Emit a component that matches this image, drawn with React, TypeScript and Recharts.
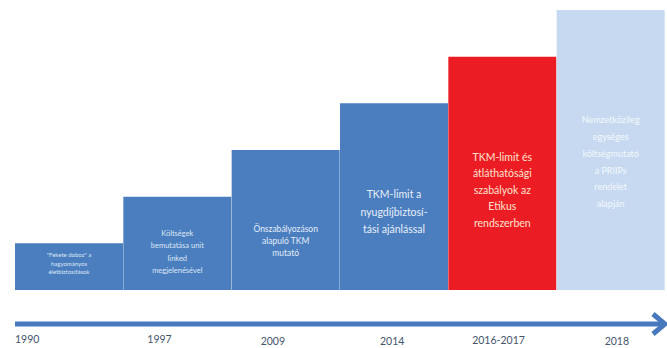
import { BarChart, Bar, XAxis, YAxis, Cell, LabelList } from 'recharts';

const years = ['1990', '1997', '2009', '2014', '2016-2017', '2018'];
const steps = [1, 2, 3, 4, 5, 6];
const milestones = [
  ['"Fekete doboz" a', 'hagyományos', 'életbiztosítások'],
  ['Költségek', 'bemutatása unit', 'linked', 'megjelenésével'],
  ['Önszabályozáson', 'alapuló TKM', 'mutató'],
  ['TKM-limit a', 'nyugdíjbiztosí-', 'tási ajánlással'],
  ['TKM-limit és', 'átláthatósági', 'szabályok az', 'Etikus', 'rendszerben'],
  ['Nemzetközileg', 'egységes', 'költségmutató', 'a PRIIPs', 'rendelet', 'alapján'],
];

const data = years.map((year, i) => ({ year, step: steps[i] }));

// styling per step
const BAR_COLORS = ['#4a7ebf', '#4a7ebf', '#4a7ebf', '#4a7ebf', '#ec1c24', '#c6d9f0'];
const TEXT_COLORS = ['#dce6f4', '#dce6f4', '#e4ecf7', '#e8eef8', '#fbe3cf', '#f4f8fd'];
const TEXT_SIZE = [6, 7.5, 8.5, 10.5, 10.5, 9];
const LINE_GAP = [8.5, 12.5, 12, 17.5, 16.5, 16.8];
const TEXT_CENTER = [0.42, 0.59, 0.65, 0.58, 0.57, 0.54];
const YEAR_SHIFT = [-42, -18, -13, -2, -4, 6];
const YEAR_DY = [0, 0, 2, 2, 1, 2];

const FONT = 'Lato, "Open Sans", sans-serif';

function StepText(props: any) {
  const { x, y, width, height, index } = props;
  const lines = milestones[index];
  const gap = LINE_GAP[index];
  const cx = x + width / 2;
  const cy = y + height * TEXT_CENTER[index];
  const start = cy - ((lines.length - 1) * gap) / 2;
  return (
    <text
      x={cx}
      y={start}
      textAnchor="middle"
      dominantBaseline="central"
      fill={TEXT_COLORS[index]}
      fontSize={TEXT_SIZE[index]}
      fontFamily={FONT}
    >
      {lines.map((line, i) => (
        <tspan key={i} x={cx} y={start + i * gap}>
          {line}
        </tspan>
      ))}
    </text>
  );
}

function YearTick(props: any) {
  const { x, y, payload, index } = props;
  return (
    <text
      x={x + YEAR_SHIFT[index]}
      y={y + 11 + YEAR_DY[index]}
      textAnchor="middle"
      fill="#44546a"
      fontSize={10.5}
      fontFamily={FONT}
    >
      {payload.value}
    </text>
  );
}

export default function App() {
  return (
    <div style={{ position: 'absolute', left: 0, top: 0, width: 667, height: 348, background: '#fff' }}>
      <svg width={0} height={0} style={{ position: 'absolute' }}>
        <defs>
          <marker
            id="timelineArrow"
            markerUnits="userSpaceOnUse"
            markerWidth={20}
            markerHeight={26}
            viewBox="0 0 20 26"
            refX={16}
            refY={13}
            orient="auto"
          >
            <path d="M4,3 L16,13 L4,23" fill="none" stroke="#4878bd" strokeWidth={5} strokeLinejoin="miter" />
          </marker>
        </defs>
      </svg>
      <BarChart
        width={667}
        height={348}
        data={data}
        margin={{ top: 10, right: 2, left: 15, bottom: 0 }}
        barCategoryGap={0}
        barGap={0}
      >
        <YAxis hide type="number" domain={[-0.73, 6]} allowDataOverflow />
        <XAxis
          dataKey="year"
          height={24}
          tickLine={false}
          axisLine={{ stroke: '#4878bd', strokeWidth: 5, markerEnd: 'url(#timelineArrow)' }}
          tick={<YearTick />}
          interval={0}
        />
        <Bar dataKey="step" isAnimationActive={false}>
          {data.map((d, i) => (
            <Cell key={d.year} fill={BAR_COLORS[i]} />
          ))}
          <LabelList dataKey="step" content={<StepText />} />
        </Bar>
      </BarChart>
    </div>
  );
}
